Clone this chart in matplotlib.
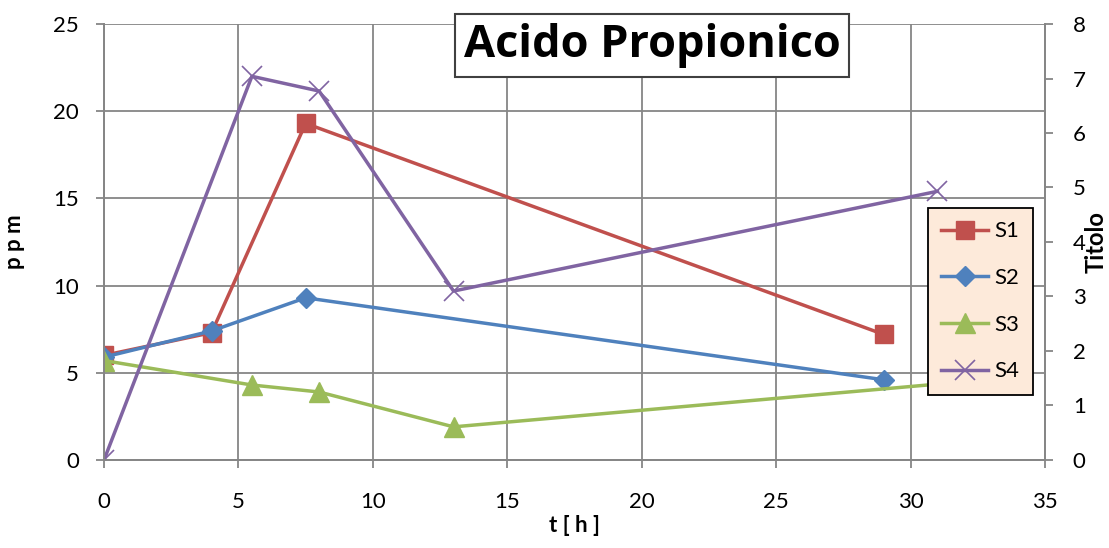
import matplotlib.pyplot as plt

# dati
t_s1 = [0, 4, 7.5, 29]
s1 = [6.0, 7.3, 19.3, 7.2]
t_s2 = [0, 4, 7.5, 29]
s2 = [5.9, 7.4, 9.3, 4.6]
t_s3 = [0, 5.5, 8, 13, 31]
s3 = [5.7, 4.3, 3.9, 1.9, 4.35]
t_s4 = [0, 5.5, 8, 13, 31]
s4 = [0, 7.04, 6.77, 3.1, 4.93]   # asse secondario (Titolo)

plt.rcParams['font.family'] = ['Lato', 'DejaVu Sans']
grigio = '#868686'

fig = plt.figure(figsize=(11.09, 5.48), dpi=100)
ax = fig.add_axes([0.0938, 0.1606, 0.8485, 0.7956])
ax2 = ax.twinx()

l1, = ax.plot(t_s1, s1, color='#C0504D', lw=2.5, marker='s', ms=13, label='S1')
l2, = ax.plot(t_s2, s2, color='#4F81BD', lw=2.5, marker='D', ms=10, label='S2')
l3, = ax.plot(t_s3, s3, color='#9BBB59', lw=2.5, marker='^', ms=14, label='S3')
l4, = ax2.plot(t_s4, s4, color='#8064A2', lw=2.5, marker='x', ms=14, mew=1.2, label='S4')

ax.set_xlim(0, 35)
ax.set_ylim(0, 25)
ax2.set_ylim(0, 8)
ax.set_xticks(range(0, 36, 5))
ax.set_yticks(range(0, 26, 5))
ax2.set_yticks(range(0, 9))

ax.grid(True, color=grigio, lw=1.3)
ax.set_axisbelow(True)
for a in (ax, ax2):
    for s in a.spines.values():
        s.set_color(grigio)
        s.set_linewidth(1.3)
    a.tick_params(colors=grigio, labelcolor='black', labelsize=16, length=6, width=1.3, direction='out')
ax.spines['top'].set_visible(False)
ax2.spines['top'].set_visible(False)
ax.tick_params(axis='x', pad=17)
ax.tick_params(axis='y', pad=12)
ax2.tick_params(axis='y', pad=14)

ax.set_xlabel('t [ h ]', fontsize=16, fontweight='bold', labelpad=2)
ax.set_ylabel('p p m', fontsize=16, fontweight='bold', labelpad=20)
ax2.set_ylabel('Titolo', fontsize=17, fontweight='bold', labelpad=-1)

ax.text(0.5824, 0.95, 'Acido Propionico', transform=ax.transAxes, ha='center', va='center',
        fontsize=32.5, fontweight='bold', family=['Open Sans', 'DejaVu Sans'], zorder=10,
        bbox=dict(boxstyle='square,pad=0.2', fc='white', ec='#404040', lw=1.5))

leg = ax2.legend(handles=[l1, l2, l3, l4], loc='upper left', bbox_to_anchor=(0.8757, 0.578),
                 borderaxespad=0, fontsize=16, frameon=True, fancybox=False, framealpha=1,
                 handlelength=2.1, labelspacing=1.2, borderpad=0.6, handletextpad=0.3)
leg.get_frame().set_facecolor('#FDEADA')
leg.get_frame().set_edgecolor('black')
leg.get_frame().set_linewidth(1.3)
leg.set_zorder(20)

fig.savefig('out.png', dpi=100)
